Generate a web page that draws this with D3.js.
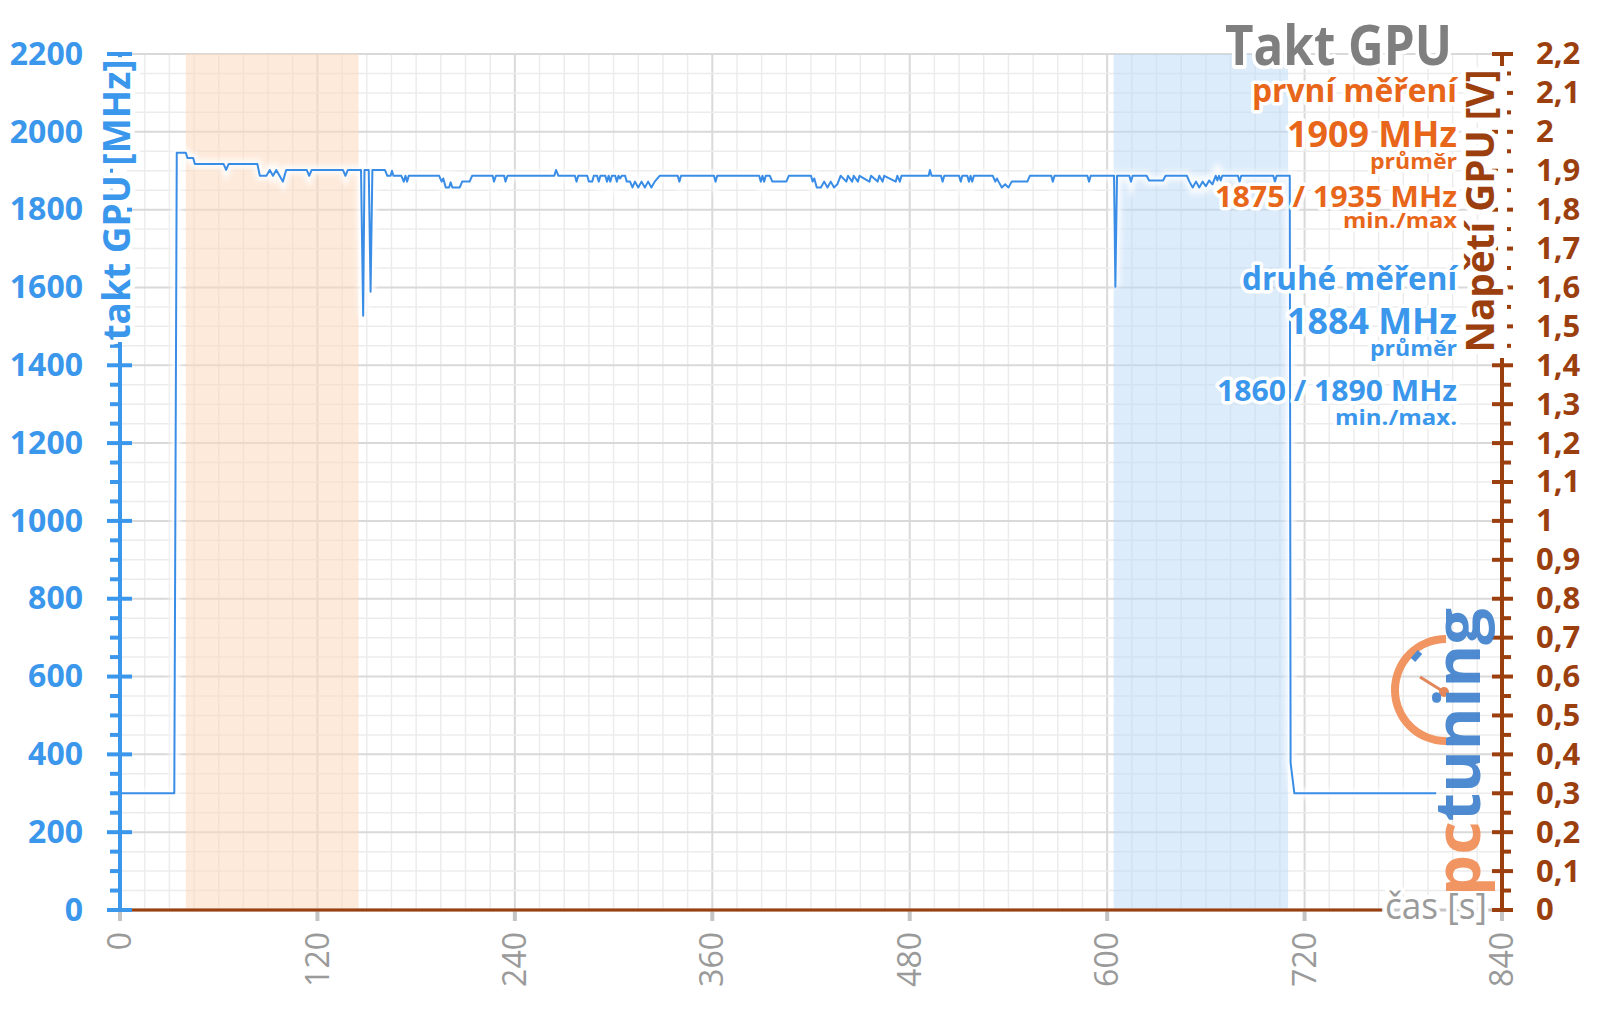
<!DOCTYPE html>
<html>
<head>
<meta charset="utf-8">
<script src="https://cdn.jsdelivr.net/npm/d3@7"></script>
<style>
	body { margin: 0; background: #fff; }
	svg { display: block; font-family: 'Open Sans', sans-serif; }
</style>
</head>
<body>
<div id="chart"></div>
<script>
// GPU clock [s, MHz]
var clock = [
	[0,300],[33,300],[34.5,1946],[40,1946],[41,1933],[44.5,1933],[45.5,1917],
	[63,1917],[64.5,1902],[66,1917],
	[83.5,1917],[85,1887],[89,1887],[91,1902],[93,1887],[95,1902],[97,1887],[99,1872],[101,1902],
	[113.5,1902],[115,1887],[116.5,1902],
	[135.5,1902],[137,1887],[138.5,1902],
	[146.5,1902],[147.8,1527],[148.6,1902],
	[151.2,1902],[152.3,1589],[153.4,1902],
	[161,1902],[162.5,1887],[164.5,1887],[165.3,1900],[166.2,1887],
	[171,1887],[172.5,1872],[173.5,1887],[174.5,1872],[175.5,1887],
	[194,1887],[195.5,1872],[196.5,1880],[198,1857],[200,1857],[201,1870],[202,1857],[206.5,1857],[208,1872],[212.5,1872],[214,1887],
	[226.5,1887],[227.3,1872],[228.5,1887],[233.5,1887],[234.3,1872],[235.5,1887],
	[264,1887],[265,1902],[266.5,1887],
	[276.5,1887],[277.5,1872],[278.5,1887],[284,1887],[285,1872],[287,1872],[288,1887],[290,1887],[291,1872],[292,1887],
	[295,1887],[296,1872],[297,1887],[298,1872],[299,1887],[301,1887],[302,1872],[303,1887],[304,1880],[305,1887],
	[307,1887],[308,1872],[310,1872],[311.5,1857],[313,1872],[315,1857],[317,1872],[319,1857],[321,1872],[323,1857],[325,1872],[328,1887],
	[339,1887],[340,1872],[341,1887],
	[361,1887],[362,1872],[363,1887],
	[388.5,1887],[389.5,1872],[390.5,1887],[391.5,1872],[392.5,1887],
	[395,1887],[396.5,1872],[405,1872],[406.5,1887],
	[420,1887],[421,1872],[422,1880],[423.5,1857],[426,1857],[428,1872],[430,1857],[432,1872],[434,1857],[436,1865],[438,1887],
	[441.5,1872],[442.5,1887],[445,1872],[446,1887],[448.5,1872],[449.5,1887],[455.5,1872],[456.5,1887],
	[460.5,1872],[461.5,1887],[463.5,1872],[464.5,1887],[471.5,1872],[472.5,1887],[474,1872],[475,1887],
	[491.5,1887],[492.3,1902],[493.3,1887],
	[499,1887],[500,1872],[501,1887],
	[510,1887],[511,1872],[512,1887],[515,1887],[516,1872],[517,1887],[518,1872],[519,1887],
	[530.5,1887],[532,1872],[533,1880],[534,1872],[536,1857],[538,1865],[540,1857],[542,1872],[551.5,1872],[553,1887],
	[566,1887],[567,1872],[568,1887],
	[588,1887],[589,1872],[590,1887],
	[604.2,1887],[605,1602],[606,1887],
	[613.5,1887],[614.5,1872],[615.5,1887],
	[624,1887],[625.5,1875],[634,1875],[635.5,1887],
	[648.5,1887],[650,1872],[652,1857],[654,1872],[656,1857],[658,1872],[660,1860],[662,1875],[664,1865],[666,1887],[667,1875],[668,1887],[669,1875],[670,1887],
	[679.5,1887],[680.5,1872],[681.5,1887],
	[701,1887],[702,1872],[703,1887],
	[711,1887],[711.5,378],[713.8,300],[800,300]
]

// GPU voltage [s, V] - flat at zero in the source
var voltage = [[0,0],[767,0]]

// measured windows [from s, to s]
var firstRun = [40,145]
var secondRun = [604,710]

var xTicks = [0,120,240,360,480,600,720,840]
var xMinor = d3.range(0,841,15)
var yTicks = [0,200,400,600,800,1000,1200,1400,1600,1800,2000,2200]
var yMinor = d3.range(0,2201,50)
var vTicks = [0,0.1,0.2,0.3,0.4,0.5,0.6,0.7,0.8,0.9,1,1.1,1.2,1.3,1.4,1.5,1.6,1.7,1.8,1.9,2,2.1,2.2]
var vTickLabels = ['0','0,1','0,2','0,3','0,4','0,5','0,6','0,7','0,8','0,9','1','1,1','1,2','1,3','1,4','1,5','1,6','1,7','1,8','1,9','2','2,1','2,2']
var vMinor = d3.range(0,45).map(function(i) { return i*0.05 })

var legend = [
	{text:'první měření', y:102, size:32, color:'orange', len:205},
	{text:'1909 MHz', y:147, size:35, color:'orange', len:170},
	{text:'průměr', y:169, size:22, color:'orange', len:87},
	{text:'1875 / 1935 MHz', y:207, size:29, color:'orange', len:242},
	{text:'min./max', y:228, size:22, color:'orange', len:114},
	{text:'druhé měření', y:290, size:32, color:'blue', len:215},
	{text:'1884 MHz', y:334, size:35, color:'blue', len:170},
	{text:'průměr', y:356, size:22, color:'blue', len:87},
	{text:'1860 / 1890 MHz', y:401, size:29, color:'blue', len:240},
	{text:'min./max.', y:425, size:22, color:'blue', len:122}
]

var colors = {
	blue: '#3a97eb',
	line: '#3a8de6',
	orange: '#e8661a',
	brown: '#9c3f0f',
	gray: '#7f7f7f'
}

var svg = d3.select('#chart').append('svg')
	.attr('width', 1600)
	.attr('height', 1009)

var defs = svg.append('defs')
defs.append('filter').attr('id','glow')
	.attr('x','-5%').attr('y','-5%').attr('width','110%').attr('height','110%')
	.append('feGaussianBlur').attr('stdDeviation', 2.5)

var xScale = d3.scaleLinear().domain([0,840]).range([120,1502])
var yScale = d3.scaleLinear().domain([0,2200]).range([910,54])
var vScale = d3.scaleLinear().domain([0,2.2]).range([910,54])

// grid
var grid = svg.append('g')
grid.selectAll('.gx').data(xMinor).enter().append('line')
	.attr('x1', function(d) { return xScale(d) })
	.attr('x2', function(d) { return xScale(d) })
	.attr('y1', yScale(0)).attr('y2', yScale(2200))
	.attr('stroke', function(d) { return d % 120 === 0 ? '#d9d9d9' : '#ececec' })
	.attr('stroke-width', function(d) { return d % 120 === 0 ? 2 : 1.5 })
grid.selectAll('.gy').data(yMinor).enter().append('line')
	.attr('x1', xScale(0)).attr('x2', xScale(840))
	.attr('y1', function(d) { return yScale(d) })
	.attr('y2', function(d) { return yScale(d) })
	.attr('stroke', function(d) { return d % 200 === 0 ? '#d9d9d9' : '#ececec' })
	.attr('stroke-width', function(d) { return d % 200 === 0 ? 2 : 1.5 })

// measured windows
svg.append('rect')
	.attr('x', xScale(firstRun[0])).attr('width', xScale(firstRun[1]) - xScale(firstRun[0]))
	.attr('y', yScale(2200)).attr('height', yScale(0) - yScale(2200))
	.attr('fill', '#fbd9bd').attr('opacity', 0.55)
svg.append('rect')
	.attr('x', xScale(secondRun[0])).attr('width', xScale(secondRun[1]) - xScale(secondRun[0]))
	.attr('y', yScale(2200)).attr('height', yScale(0) - yScale(2200))
	.attr('fill', '#bcd9f7').attr('opacity', 0.5)

// x axis
svg.append('line')
	.attr('x1', xScale(0)).attr('x2', xScale(840))
	.attr('y1', yScale(0)).attr('y2', yScale(0))
	.attr('stroke', '#c4c4c4').attr('stroke-width', 3)
svg.selectAll('.xt').data(xTicks).enter().append('line')
	.attr('x1', function(d) { return xScale(d) })
	.attr('x2', function(d) { return xScale(d) })
	.attr('y1', 910).attr('y2', 921)
	.attr('stroke', '#c4c4c4').attr('stroke-width', 4)
svg.selectAll('.xl').data(xTicks).enter().append('text')
	.attr('transform', function(d) { return 'translate(' + xScale(d) + ',932) rotate(-90)' })
	.attr('text-anchor', 'end')
	.attr('dy', '0.35em')
	.attr('font-size', 32)
	.attr('fill', '#9a9a9a')
	.text(function(d) { return d })

// line series
var line = d3.line()
	.x(function(d) { return xScale(d[0]) })
	.y(function(d) { return yScale(d[1]) })

svg.append('path')
	.datum(clock)
	.attr('d', line)
	.attr('fill', 'none')
	.attr('stroke', '#fff')
	.attr('stroke-width', 9)
	.attr('opacity', 0.85)
	.attr('filter', 'url(#glow)')

svg.append('path')
	.datum(clock)
	.attr('d', line)
	.attr('fill', 'none')
	.attr('stroke', colors.line)
	.attr('stroke-width', 2)
	.attr('stroke-linejoin', 'round')

var vline = d3.line()
	.x(function(d) { return xScale(d[0]) })
	.y(function(d) { return vScale(d[1]) })
svg.append('path')
	.datum(voltage)
	.attr('d', vline)
	.attr('fill', 'none')
	.attr('stroke', colors.brown)
	.attr('stroke-width', 3)

// left axis
svg.append('line')
	.attr('x1', 120).attr('x2', 120)
	.attr('y1', yScale(0) + 2).attr('y2', yScale(2200))
	.attr('stroke', colors.blue).attr('stroke-width', 4)
svg.selectAll('.ymt').data(yMinor).enter().append('line')
	.attr('x1', function(d) { return d % 200 === 0 ? 107 : 110 })
	.attr('x2', function(d) { return d % 200 === 0 ? 132 : 120 })
	.attr('y1', function(d) { return yScale(d) })
	.attr('y2', function(d) { return yScale(d) })
	.attr('stroke', colors.blue).attr('stroke-width', 4)

var leftAxis = svg.append('g')
	.attr('transform', 'translate(83,0)')
	.call(d3.axisLeft(yScale).tickValues(yTicks).tickSize(0).tickPadding(0).tickFormat(d3.format('d')))
leftAxis.select('.domain').remove()
leftAxis.selectAll('text')
	.attr('font-family', "'Open Sans', sans-serif")
	.attr('font-size', 32)
	.attr('font-weight', 700)
	.attr('fill', colors.blue)

// right axis
svg.append('line')
	.attr('x1', 1502).attr('x2', 1502)
	.attr('y1', vScale(0) + 2).attr('y2', vScale(2.2))
	.attr('stroke', colors.brown).attr('stroke-width', 4)
svg.selectAll('.vmt').data(vMinor).enter().append('line')
	.attr('x1', function(d, i) { return i % 2 === 0 ? 1492 : 1502 })
	.attr('x2', function(d, i) { return i % 2 === 0 ? 1513 : 1511 })
	.attr('y1', function(d) { return vScale(d) })
	.attr('y2', function(d) { return vScale(d) })
	.attr('stroke', colors.brown).attr('stroke-width', 4)

var rightAxis = svg.append('g')
	.attr('transform', 'translate(1536,0)')
	.call(d3.axisRight(vScale).tickValues(vTicks).tickSize(0).tickPadding(0)
		.tickFormat(function(d, i) { return vTickLabels[i] }))
rightAxis.select('.domain').remove()
rightAxis.selectAll('text')
	.attr('font-family', "'Open Sans', sans-serif")
	.attr('font-size', 31)
	.attr('font-weight', 700)
	.attr('fill', colors.brown)

// axis titles
svg.append('rect').attr('x', 113).attr('y', 58).attr('width', 14).attr('height', 284).attr('fill', '#fff')
svg.append('rect').attr('x', 1498).attr('y', 66).attr('width', 9).attr('height', 292).attr('fill', '#fff')

function halo(sel, w) {
	sel.attr('stroke', '#fff')
		.attr('stroke-width', w)
		.attr('stroke-linejoin', 'round')
		.attr('paint-order', 'stroke')
}

svg.append('text')
	.attr('transform', 'translate(130,200) rotate(-90)')
	.attr('text-anchor', 'middle')
	.attr('font-size', 38)
	.attr('font-weight', 700)
	.attr('fill', colors.blue)
	.attr('textLength', 281)
	.attr('lengthAdjust', 'spacingAndGlyphs')
	.call(halo, 10)
	.text('takt GPU [MHz]')

svg.append('text')
	.attr('transform', 'translate(1494,211) rotate(-90)')
	.attr('text-anchor', 'middle')
	.attr('font-size', 39)
	.attr('font-weight', 700)
	.attr('fill', colors.brown)
	.attr('textLength', 283)
	.attr('lengthAdjust', 'spacingAndGlyphs')
	.call(halo, 10)
	.text('Napětí GPU [V]')

svg.append('text')
	.attr('x', 1487).attr('y', 919)
	.attr('text-anchor', 'end')
	.attr('font-size', 36)
	.attr('fill', '#9a9a9a')
	.attr('textLength', 102)
	.attr('lengthAdjust', 'spacingAndGlyphs')
	.call(halo, 8)
	.text('čas [s]')

// chart title and legend
svg.append('text')
	.attr('x', 1452).attr('y', 65)
	.attr('text-anchor', 'end')
	.attr('font-size', 55)
	.attr('font-weight', 700)
	.attr('fill', colors.gray)
	.attr('textLength', 227)
	.attr('lengthAdjust', 'spacingAndGlyphs')
	.call(halo, 8)
	.text('Takt GPU')

svg.selectAll('.legend').data(legend).enter().append('text')
	.attr('x', 1457)
	.attr('y', function(d) { return d.y })
	.attr('text-anchor', 'end')
	.attr('font-size', function(d) { return d.size })
	.attr('font-weight', 700)
	.attr('fill', function(d) { return colors[d.color] })
	.attr('textLength', function(d) { return d.len })
	.attr('lengthAdjust', 'spacingAndGlyphs')
	.call(halo, 7)
	.text(function(d) { return d.text })

// pctuning logo
var logo = svg.append('g').attr('opacity', 0.9)
logo.append('path')
	.attr('transform', 'translate(1446,690)')
	.attr('d', d3.arc().innerRadius(47).outerRadius(55).startAngle(Math.PI).endAngle(2 * Math.PI)())
	.attr('fill', '#f08a52')
logo.append('line')
	.attr('x1', 1413).attr('y1', 660).attr('x2', 1420).attr('y2', 652)
	.attr('stroke', '#3d7fcc').attr('stroke-width', 6)
logo.append('line')
	.attr('x1', 1420).attr('y1', 677).attr('x2', 1444).attr('y2', 692)
	.attr('stroke', '#e07a48').attr('stroke-width', 3)
logo.append('circle')
	.attr('cx', 1444).attr('cy', 692).attr('r', 5)
	.attr('fill', '#e07a48')
var logoText = logo.append('text')
	.attr('transform', 'translate(1480,896) rotate(-90)')
	.attr('font-size', 62)
	.attr('font-weight', 700)
	.attr('textLength', 288)
	.attr('lengthAdjust', 'spacingAndGlyphs')
logoText.append('tspan').attr('fill', '#f08a52').text('pc')
logoText.append('tspan').attr('fill', '#3d7fcc').text('tuning')
</script>
</body>
</html>
